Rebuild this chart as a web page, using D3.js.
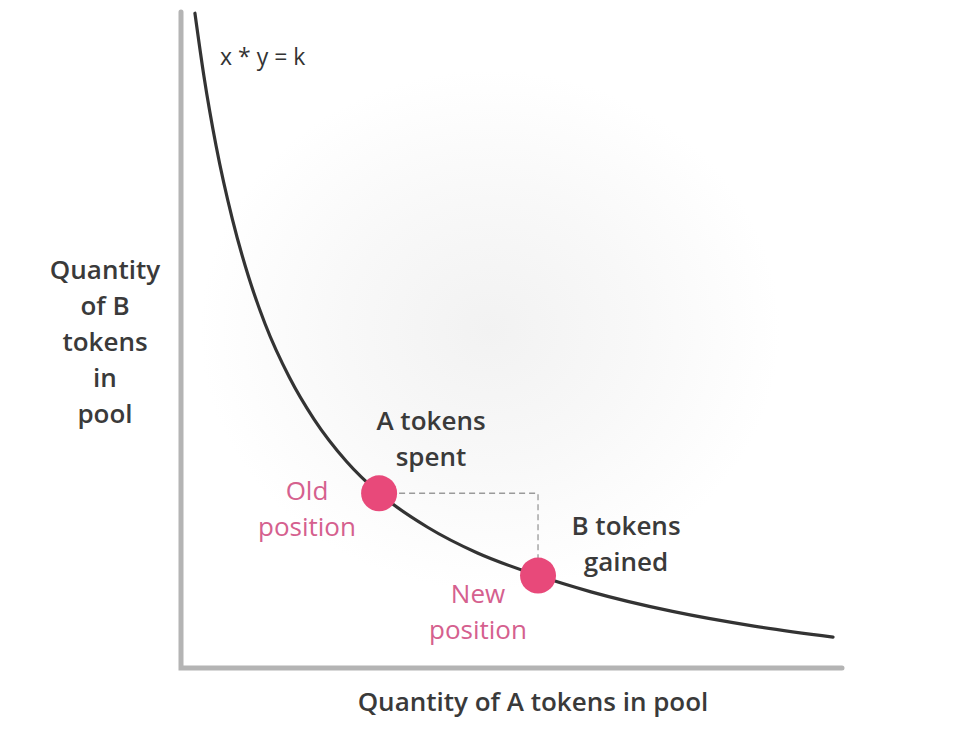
<!DOCTYPE html>
<html><head><meta charset="utf-8">
<script src="https://cdn.jsdelivr.net/npm/d3@7"></script>
<style>html,body{margin:0;padding:0;background:#fff;}svg{display:block;}</style>
</head><body>
<svg id="chart" width="980" height="738"></svg>
<script>
// ---- data (x * y = k) ----
const curveX = [1.14, 1.25, 1.4, 1.6, 1.8, 2.0, 2.3, 2.6, 3.0, 3.4, 4.0, 4.6, 5.35, 6.0, 7.0, 8.0, 8.97];
const curveY = [8.77, 8.0, 7.14, 6.24, 5.53, 4.96, 4.3, 3.79, 3.27, 2.88, 2.46, 2.15, 1.87, 1.67, 1.43, 1.25, 1.115];
const pointNames = ["Old position", "New position"];
const pointX = [3.4, 5.35];
const pointY = [2.88, 1.87];
const xDomain = [0.969, 9.08];
const yDomain = [0.736, 8.785];
const titleText = "x * y = k";
const xAxisLabel = ["Quantity of A tokens in pool"];
const yAxisLabel = ["Quantity", "of B", "tokens", "in", "pool"];
const spentLabel = ["A tokens", "spent"];
const gainedLabel = ["B tokens", "gained"];

const svg = d3.select("#chart");
const font = "'Open Sans', 'Noto Sans', sans-serif";

const x = d3.scaleLinear().domain(xDomain).range([181, 842]);
const y = d3.scaleLinear().domain(yDomain).range([668, 12]);

// faint background glow
const defs = svg.append("defs");
const rg = defs.append("radialGradient").attr("id", "glow")
  .attr("cx", 0.5).attr("cy", 0.5).attr("r", 0.5);
rg.append("stop").attr("offset", "0%").attr("stop-color", "#f2f2f2");
rg.append("stop").attr("offset", "50%").attr("stop-color", "#f8f8f8");
rg.append("stop").attr("offset", "100%").attr("stop-color", "#ffffff");
svg.append("ellipse").attr("cx", 490).attr("cy", 330).attr("rx", 290).attr("ry", 260)
  .attr("fill", "url(#glow)");

// axes (plain lines)
svg.append("path")
  .attr("d", d3.line()([[x(xDomain[0]), y(yDomain[1])], [x(xDomain[0]), y(yDomain[0])], [x(xDomain[1]), y(yDomain[0])]]))
  .attr("fill", "none").attr("stroke", "#b4b4b4").attr("stroke-width", 5)
  .attr("stroke-linecap", "round").attr("stroke-linejoin", "miter");

// curve
const pts = curveX.map((d, i) => [d, curveY[i]]);
svg.append("path")
  .attr("d", d3.line().x(d => x(d[0])).y(d => y(d[1])).curve(d3.curveMonotoneX)(pts))
  .attr("fill", "none").attr("stroke", "#333").attr("stroke-width", 3.2)
  .attr("stroke-linecap", "round");

// dashed guide
svg.append("path")
  .attr("d", d3.line()([[x(pointX[0]), y(pointY[0])], [x(pointX[1]), y(pointY[0])], [x(pointX[1]), y(pointY[1])]]))
  .attr("fill", "none").attr("stroke", "#9a9a9a").attr("stroke-width", 1.3)
  .attr("stroke-dasharray", "6,4");

// points
svg.selectAll("circle.pt").data(pointX).join("circle").attr("class", "pt")
  .attr("cx", (d) => x(d)).attr("cy", (d, i) => y(pointY[i])).attr("r", 18)
  .attr("fill", "#e8497a");

function multi(lines, cx, baseY, lh, opts) {
  const t = svg.append("text").attr("text-anchor", "middle")
    .attr("font-family", font).attr("font-size", opts.size)
    .attr("font-weight", opts.weight).attr("fill", opts.color);
  lines.forEach((l, i) => t.append("tspan").attr("x", cx).attr("y", baseY + i * lh).text(l));
  return t;
}

// title
svg.append("text").attr("x", 220).attr("y", 65).attr("font-family", font)
  .attr("font-size", 23).attr("fill", "#333").text(titleText);

const dark = {size: 26, weight: 600, color: "#3a3a3a"};
const pink = {size: 26, weight: 400, color: "#d5608e"};

multi(yAxisLabel, 105, 279, 36, dark);
multi(xAxisLabel, 533, 711, 36, dark);
multi(spentLabel, 431, 430, 36, dark);
multi(gainedLabel, 626, 535, 36, dark);

const oldName = pointNames[0].split(" ");
const newName = pointNames[1].split(" ");
multi(oldName, 307, 500, 36, pink);
multi(newName, 478, 603, 36, pink);
</script>
</body></html>
